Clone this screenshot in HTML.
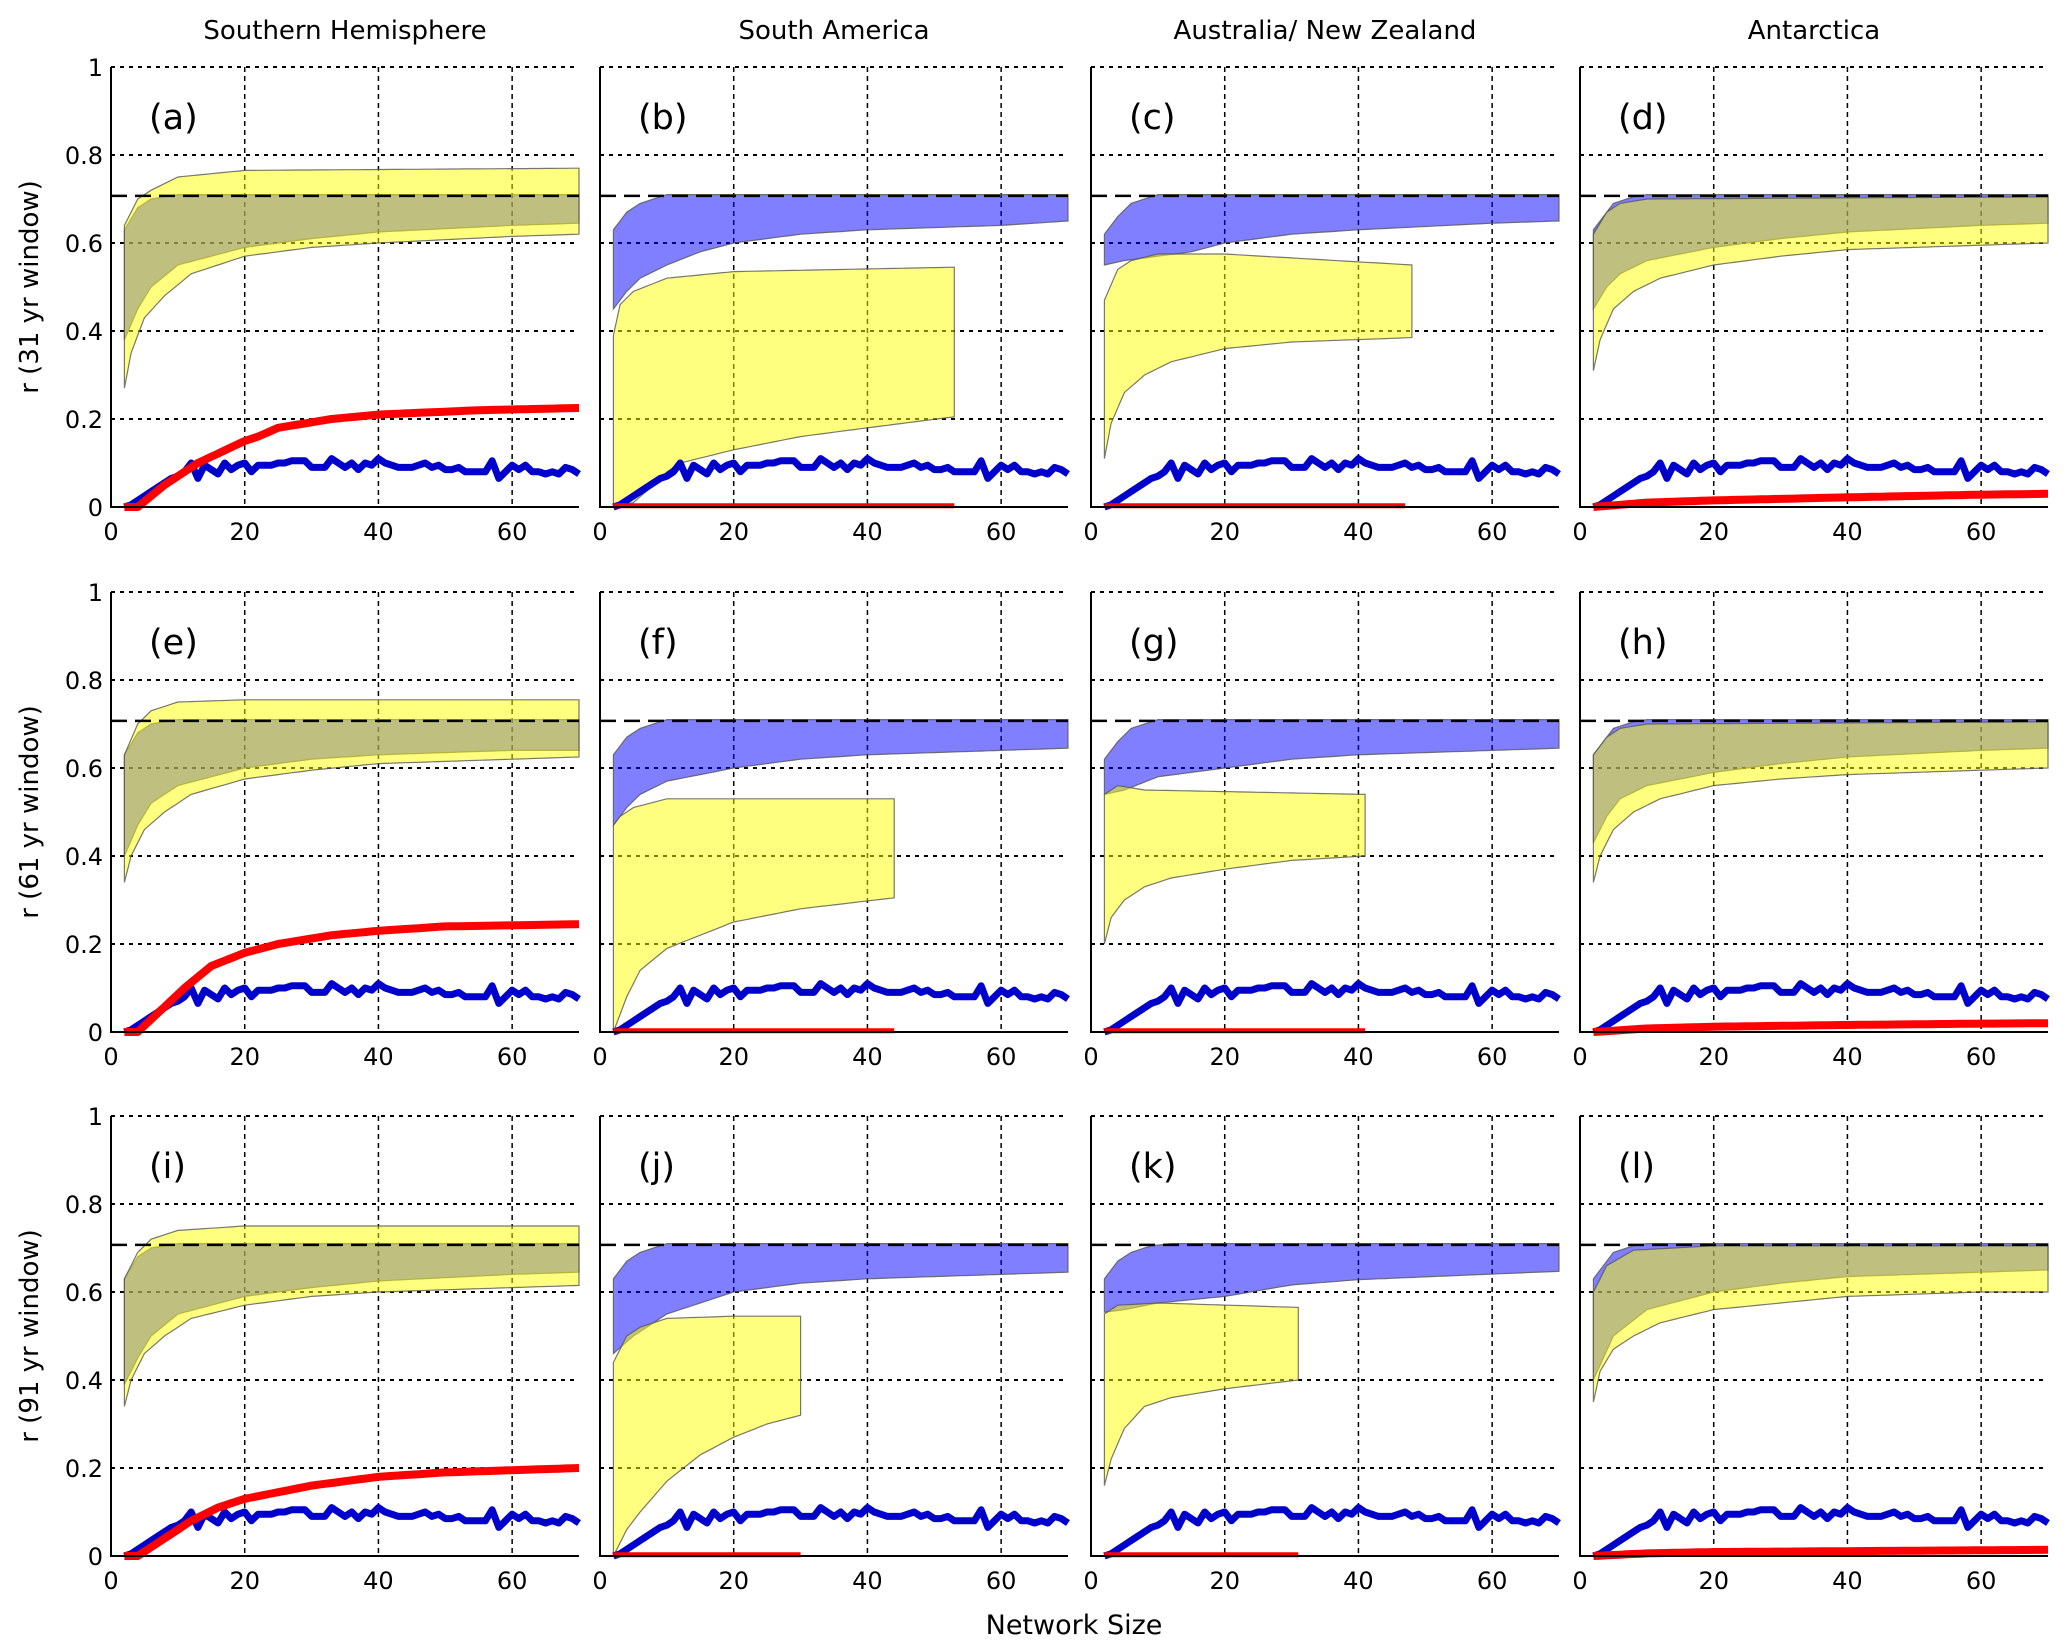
<!DOCTYPE html>
<html><head><meta charset="utf-8"><style>
html,body{margin:0;padding:0;background:#fff}
svg{display:block;font-family:"DejaVu Sans","Liberation Sans",sans-serif}
</style></head><body>
<svg id="fig" width="2067" height="1652" viewBox="0 0 2067 1652"></svg>
<script>
// ---------- data ----------
const colTitles = ["Southern Hemisphere","South America","Australia/ New Zealand","Antarctica"];
const rowTitles = ["r (31 yr window)","r (61 yr window)","r (91 yr window)"];
const panelLabels = ["(a)","(b)","(c)","(d)","(e)","(f)","(g)","(h)","(i)","(j)","(k)","(l)"];
const yTicks = [0,0.2,0.4,0.6,0.8,1];
const yTickLabels = ["0","0.2","0.4","0.6","0.8","1"];
const xTicks = [0,20,40,60];
const refLine = 0.707;
// blue line: network size 2..70
const blueLine = [0,0.005,0.015,0.025,0.035,0.045,0.055,0.065,0.07,0.08,0.1,0.065,0.095,0.085,0.075,0.1,0.085,0.095,0.1,0.08,0.095,0.095,0.095,0.1,0.1,0.105,0.105,0.105,0.09,0.09,0.09,0.11,0.1,0.09,0.1,0.085,0.1,0.095,0.11,0.1,0.095,0.09,0.09,0.09,0.095,0.1,0.09,0.095,0.085,0.085,0.09,0.08,0.08,0.08,0.08,0.105,0.065,0.08,0.095,0.085,0.095,0.08,0.08,0.075,0.08,0.075,0.09,0.085,0.075];
// key-point series [x,y] per panel
const blueUpper = [
 [[2,.63],[4,.68],[6,.70],[10,.71],[70,.71]],
 [[2,.63],[4,.67],[6,.69],[10,.71],[70,.71]],
 [[2,.62],[4,.66],[6,.69],[10,.71],[70,.71]],
 [[2,.63],[5,.69],[8,.705],[10,.71],[70,.71]],
 [[2,.63],[4,.68],[6,.70],[10,.71],[70,.71]],
 [[2,.63],[4,.67],[6,.69],[10,.71],[70,.71]],
 [[2,.62],[4,.66],[6,.69],[10,.71],[70,.71]],
 [[2,.63],[5,.69],[8,.705],[10,.71],[70,.71]],
 [[2,.63],[4,.68],[6,.70],[10,.71],[70,.71]],
 [[2,.63],[4,.67],[6,.69],[10,.71],[70,.71]],
 [[2,.63],[4,.67],[6,.69],[9,.705],[12,.71],[70,.71]],
 [[2,.63],[5,.69],[8,.705],[10,.71],[70,.71]]];
const blueLower = [
 [[2,.38],[4,.45],[6,.5],[10,.55],[20,.59],[30,.61],[40,.625],[60,.64],[70,.645]],
 [[2,.45],[4,.49],[6,.52],[10,.55],[15,.58],[20,.6],[30,.62],[40,.63],[60,.64],[70,.65]],
 [[2,.55],[5,.56],[10,.57],[15,.58],[20,.6],[30,.62],[40,.63],[60,.645],[70,.65]],
 [[2,.45],[4,.5],[6,.53],[10,.56],[20,.59],[30,.61],[40,.625],[60,.64],[70,.645]],
 [[2,.4],[4,.47],[6,.52],[10,.56],[20,.6],[30,.62],[40,.63],[60,.64],[70,.64]],
 [[2,.47],[4,.51],[6,.54],[10,.57],[20,.6],[30,.62],[40,.63],[60,.64],[70,.645]],
 [[2,.54],[5,.55],[10,.58],[20,.6],[30,.62],[40,.63],[70,.645]],
 [[2,.43],[4,.49],[6,.53],[10,.56],[20,.59],[30,.61],[40,.625],[60,.64],[70,.645]],
 [[2,.39],[4,.45],[6,.5],[10,.55],[20,.59],[30,.61],[40,.625],[60,.64],[70,.645]],
 [[2,.46],[5,.5],[10,.55],[20,.6],[30,.62],[40,.63],[70,.645]],
 [[2,.554],[5,.56],[10,.575],[20,.59],[30,.616],[40,.628],[70,.647]],
 [[2,.4],[5,.5],[10,.56],[20,.6],[30,.62],[40,.635],[60,.645],[70,.65]]];
const yellowUpper = [
 [[2,.64],[4,.70],[6,.72],[10,.75],[20,.765],[70,.77]],
 [[2,.39],[3,.46],[5,.49],[10,.52],[20,.535],[53,.545]],
 [[2,.47],[4,.54],[6,.56],[10,.575],[20,.575],[48,.55]],
 [[2,.62],[4,.67],[6,.69],[10,.70],[70,.705]],
 [[2,.63],[4,.70],[6,.73],[10,.75],[20,.755],[70,.755]],
 [[2,.47],[3,.49],[5,.51],[10,.53],[44,.53]],
 [[2,.54],[4,.56],[8,.55],[41,.54]],
 [[2,.63],[4,.67],[6,.69],[10,.70],[70,.705]],
 [[2,.63],[4,.69],[6,.72],[10,.74],[20,.75],[70,.75]],
 [[2,.44],[4,.5],[6,.52],[10,.54],[20,.545],[30,.545]],
 [[2,.55],[4,.57],[10,.575],[31,.565]],
 [[2,.60],[4,.66],[8,.695],[20,.705],[70,.705]]];
const yellowLower = [
 [[2,.27],[3,.35],[5,.43],[8,.48],[12,.53],[20,.57],[30,.59],[40,.6],[60,.615],[70,.62]],
 [[2,0],[5,.01],[8,.05],[10,.08],[12,.1],[20,.13],[30,.16],[40,.18],[53,.205]],
 [[2,.11],[3,.19],[5,.26],[8,.3],[12,.33],[20,.36],[30,.375],[48,.385]],
 [[2,.31],[3,.38],[5,.45],[8,.49],[12,.52],[20,.55],[30,.57],[40,.585],[60,.595],[70,.6]],
 [[2,.34],[3,.4],[5,.46],[8,.5],[12,.54],[20,.575],[30,.595],[40,.61],[60,.62],[70,.625]],
 [[2,0],[4,.08],[6,.14],[10,.19],[15,.22],[20,.25],[30,.28],[44,.305]],
 [[2,.2],[3,.26],[5,.3],[8,.33],[12,.35],[20,.37],[30,.39],[41,.4]],
 [[2,.34],[3,.4],[5,.46],[8,.5],[12,.53],[20,.56],[30,.575],[40,.585],[60,.595],[70,.6]],
 [[2,.34],[3,.4],[5,.46],[8,.5],[12,.54],[20,.57],[30,.59],[40,.6],[60,.61],[70,.615]],
 [[2,0],[4,.06],[6,.1],[10,.17],[15,.23],[20,.27],[25,.3],[30,.32]],
 [[2,.16],[3,.22],[5,.29],[8,.34],[12,.36],[20,.38],[31,.4]],
 [[2,.35],[3,.42],[5,.47],[8,.5],[12,.53],[20,.56],[30,.575],[40,.59],[60,.6],[70,.6]]];
const redLine = [
 [[2,0],[4,0],[8,.05],[13,.1],[20,.15],[22,.16],[25,.18],[33,.2],[40,.21],[55,.22],[70,.225]],
 [[2,.003],[53,.003]],
 [[2,.003],[47,.003]],
 [[2,0],[10,.01],[20,.015],[40,.022],[60,.028],[70,.03]],
 [[2,0],[4,0],[11,.1],[15,.15],[20,.18],[25,.2],[33,.22],[40,.23],[50,.24],[70,.245]],
 [[2,.003],[44,.003]],
 [[2,.003],[41,.003]],
 [[2,0],[10,.008],[20,.012],[40,.016],[60,.019],[70,.02]],
 [[2,0],[4,0],[12,.08],[16,.11],[20,.13],[30,.16],[40,.18],[50,.19],[70,.2]],
 [[2,.003],[30,.003]],
 [[2,.003],[31,.003]],
 [[2,0],[10,.006],[20,.009],[40,.011],[60,.013],[70,.014]]];

// ---------- layout ----------
const NS="http://www.w3.org/2000/svg";
const svg=document.getElementById('fig');
const lefts=[111,600,1091,1580], tops=[67,592,1116], PW=468, PH=440;
function mk(tag,attrs,parent){const e=document.createElementNS(NS,tag);for(const k in attrs)e.setAttribute(k,attrs[k]);(parent||svg).appendChild(e);return e;}
function interp(pts,x){for(let i=0;i<pts.length-1;i++){if(x<=pts[i+1][0]){const t=(x-pts[i][0])/(pts[i+1][0]-pts[i][0]);return pts[i][1]+t*(pts[i+1][1]-pts[i][1]);}}return pts[pts.length-1][1];}
function xsOf(pts){const a=[];const x0=pts[0][0],x1=pts[pts.length-1][0];for(let x=x0;x<=x1;x++)a.push(x);return a;}

colTitles.forEach((t,c)=>{
  const e=mk('text',{x:lefts[c]+PW/2,y:39,'text-anchor':'middle','font-size':26,fill:'#000'});
  e.textContent=t;
  
  
});
rowTitles.forEach((t,r)=>{
  const cy=tops[r]+PH/2;
  const e=mk('text',{x:0,y:0,transform:`translate(38,${cy}) rotate(-90)`,'text-anchor':'middle','font-size':26,fill:'#000'});
  e.textContent=t;
  
  
});
const xl=mk('text',{x:1074,y:1634,'text-anchor':'middle','font-size':27,fill:'#000'});
xl.textContent='Network Size';



for(let r=0;r<3;r++)for(let c=0;c<4;c++){
  const p=r*4+c, L=lefts[c], T=tops[r];
  const X=v=>L+v*PW/70, Y=v=>T+PH-v*PH;
  const g=mk('g',{});
  
  
  yTicks.forEach(v=>{if(v>0){const l=mk('line',{x1:L,x2:L+PW,y1:Y(v),y2:Y(v),stroke:'#000','stroke-width':2,'stroke-dasharray':'4 5'},g);}});
  xTicks.forEach(v=>{if(v>0){const l=mk('line',{x1:X(v),x2:X(v),y1:T,y2:T+PH,stroke:'#000','stroke-width':1.5,'stroke-dasharray':'5 4'},g);}});
  function band(up,lo,fill,name){
    const xs=xsOf(up);let d='';
    xs.forEach((x,i)=>{d+=(i?'L':'M')+X(x).toFixed(1)+','+Y(interp(up,x)).toFixed(1);});
    xs.slice().reverse().forEach(x=>{d+='L'+X(x).toFixed(1)+','+Y(interp(lo,x)).toFixed(1);});
    const e=mk('path',{d:d+'Z',fill:fill,stroke:'#555','stroke-width':1.2,'stroke-opacity':0.8},g);
    
    
  }
  band(blueUpper[p],blueLower[p],'rgba(0,0,255,0.5)','blue-range-band');
  band(yellowUpper[p],yellowLower[p],'rgba(255,255,0,0.5)','yellow-range-band');
  const rl=mk('line',{x1:L,x2:L+PW,y1:Y(refLine),y2:Y(refLine),stroke:'#000','stroke-width':2.5,'stroke-dasharray':'16 8'},g);
  
  
  let d='';blueLine.forEach((v,i)=>{d+=(i?'L':'M')+X(2+i).toFixed(1)+','+Y(v).toFixed(1);});
  const bl=mk('path',{d:d,fill:'none',stroke:'#0000cc','stroke-width':7,'stroke-linejoin':'round'},g);
  
  
  const rp=redLine[p];d='';xsOf(rp).forEach((x,i)=>{d+=(i?'L':'M')+X(x).toFixed(1)+','+Y(interp(rp,x)).toFixed(1);});
  const flat=rp.length===2;
  const red=mk('path',{d:d,fill:'none',stroke:'#ff0000','stroke-width':flat?5:8,'stroke-linejoin':'round'},g);
  
  
  const ax=mk('path',{d:`M${L},${T}V${T+PH}H${L+PW}`,fill:'none',stroke:'#000','stroke-width':2},g);
  
  
  xTicks.forEach(v=>{const e=mk('text',{x:X(v),y:T+PH+33,'text-anchor':'middle','font-size':24,fill:'#000'},g);e.textContent=String(v);});
  if(c===0){yTicks.forEach((v,i)=>{const e=mk('text',{x:L-8,y:Y(v)+9,'text-anchor':'end','font-size':24,fill:'#000'},g);e.textContent=yTickLabels[i];});}
  const pl=mk('text',{x:L+38,y:T+62,'font-size':35,fill:'#000'},g);
  pl.textContent=panelLabels[p];
  
  
}
</script>
</body></html>
